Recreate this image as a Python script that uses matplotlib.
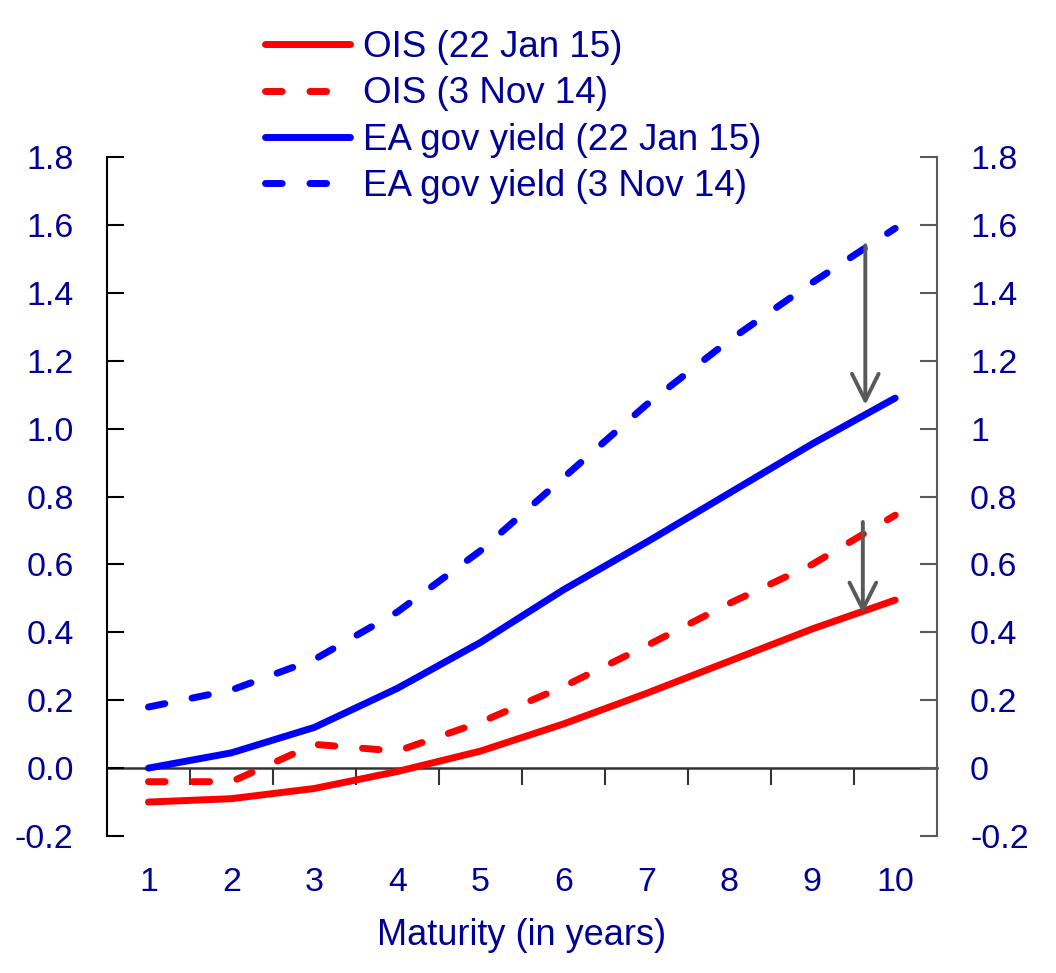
import matplotlib
matplotlib.use("Agg")
import matplotlib.pyplot as plt
import numpy as np

plt.rcParams['font.family'] = ['Liberation Sans', 'DejaVu Sans']

TXT = "#000099"
RED = "#FF0000"
BLUE = "#0000FF"
GREY = "#595959"

maturity = [1, 2, 3, 4, 5, 6, 7, 8, 9, 10]
ois_jan15 = [-0.10, -0.09, -0.06, -0.01, 0.05, 0.13, 0.22, 0.315, 0.41, 0.495]
ois_nov14 = [-0.04, -0.04, 0.07, 0.05, 0.135, 0.24, 0.36, 0.485, 0.60, 0.745]
ea_jan15 = [0.00, 0.045, 0.12, 0.235, 0.37, 0.525, 0.665, 0.81, 0.955, 1.09]
ea_nov14 = [0.18, 0.23, 0.32, 0.46, 0.64, 0.855, 1.07, 1.26, 1.43, 1.59]

# arrows: (x, from, to)
arrows = [(9.64, 1.54, 1.07), (9.61, 0.725, 0.455)]

yticks = [-0.2, 0.0, 0.2, 0.4, 0.6, 0.8, 1.0, 1.2, 1.4, 1.6, 1.8]

fig = plt.figure(figsize=(10.56, 9.73), dpi=100)
ax = fig.add_axes([0.1013, 0.1408, 0.7857, 0.6978])

lw = 5.0
dash = (2.4, 4.0)
ax.plot(maturity, ois_jan15, color=RED, lw=lw, solid_capstyle="round",
        label="OIS (22 Jan 15)")
ax.plot(maturity, ois_nov14, color=RED, lw=lw, dashes=dash, dash_capstyle="round",
        label="OIS (3 Nov 14)")
ax.plot(maturity, ea_jan15, color=BLUE, lw=lw, solid_capstyle="round",
        label="EA gov yield (22 Jan 15)")
ax.plot(maturity, ea_nov14, color=BLUE, lw=lw, dashes=dash, dash_capstyle="round",
        label="EA gov yield (3 Nov 14)")

for x, y0, y1 in arrows:
    ax.annotate("", xy=(x, y1), xytext=(x, y0),
                arrowprops=dict(arrowstyle="->", color=GREY, lw=2.8,
                                mutation_scale=48, shrinkA=0, shrinkB=0))

ax.set_xlim(0.5, 10.5)
ax.set_ylim(-0.2, 1.8)
ax.set_yticks(yticks)
ax.set_yticklabels([f"{v:.1f}" for v in yticks])
ax.set_xticks(maturity)
ax.tick_params(axis="x", length=0, pad=22, labelsize=24.5, labelcolor=TXT)
ax.tick_params(axis="y", direction="in", length=12, width=1.5, color="black",
               pad=24, labelsize=24.5, labelcolor=TXT)
for s in ["top", "bottom", "right"]:
    ax.spines[s].set_visible(False)
ax.spines["left"].set_linewidth(1.5)

# zero line with category-boundary ticks
zero = ax.secondary_xaxis(0.1)
zero.set_xticks(np.arange(1.5, 10.5, 1.0))
zero.tick_params(axis="x", direction="out", length=12, width=1.5,
                 labelbottom=False, color="#333333")
zero.spines["bottom"].set_linewidth(1.8)
zero.spines["bottom"].set_color("#333333")

ax2 = ax.twinx()
ax2.set_ylim(-0.2, 1.8)
ax2.set_yticks(yticks)
ax2.set_yticklabels([f"{v:g}" for v in yticks])
ax2.tick_params(axis="y", direction="in", length=12, width=1.5, color=GREY,
                pad=24, labelsize=24.5, labelcolor=TXT)
for s in ["top", "bottom", "left"]:
    ax2.spines[s].set_visible(False)
ax2.spines["right"].set_color(GREY)
ax2.spines["right"].set_linewidth(1.5)

ax.set_xlabel("Maturity (in years)", fontsize=26, color=TXT, labelpad=15)

leg = ax.legend(loc="upper left", bbox_to_anchor=(265 / 1056, 1 - 30 / 973),
                bbox_transform=fig.transFigure, frameon=False, fontsize=26.5,
                handlelength=2.3, handletextpad=0.35, labelspacing=0.31,
                borderpad=0, borderaxespad=0)
for t in leg.get_texts():
    t.set_color(TXT)

fig.savefig("out.png", dpi=100)
